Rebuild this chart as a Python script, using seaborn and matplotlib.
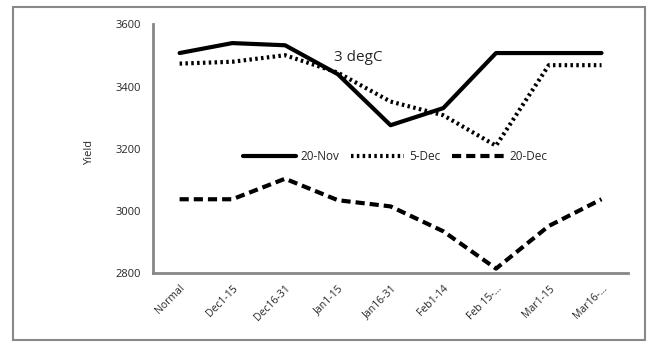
import numpy as np
import pandas as pd
import seaborn as sns
import matplotlib.pyplot as plt
from matplotlib.patches import Rectangle

periods = ['Normal', 'Dec1-15', 'Dec16-31', 'Jan1-15', 'Jan16-31',
           'Feb1-14', 'Feb 15-...', 'Mar1-15', 'Mar16-...']
nov20 = [3508, 3540, 3533, 3440, 3276, 3331, 3508, 3508, 3508]
dec5 = [3474, 3480, 3501, 3445, 3352, 3308, 3210, 3469, 3469]
dec20 = [3038, 3038, 3104, 3035, 3015, 2935, 2815, 2952, 3038]
series_names = ['20-Nov', '5-Dec', '20-Dec']

rows = []
for name, vals in zip(series_names, [nov20, dec5, dec20]):
    for i, v in enumerate(vals):
        rows.append({'pos': i, 'period': periods[i], 'series': name, 'yield': v})
df = pd.DataFrame(rows)

sns.set_style('white')
plt.rcParams['font.family'] = ['Open Sans', 'DejaVu Sans']

fig = plt.figure(figsize=(6.52, 3.54), dpi=100)
ax = fig.add_axes([0.235, 0.228, 0.728, 0.703])

sns.lineplot(data=df, x='pos', y='yield', style='series', color='black',
             linewidth=3, dashes={'20-Nov': '', '5-Dec': (0.6, 0.8), '20-Dec': (2.2, 1.2)},
             ax=ax)

ax.set_xlim(-0.5, len(periods) - 0.5)
ax.set_ylim(2800, 3600)
ax.set_yticks([2800, 3000, 3200, 3400, 3600])
ax.set_xticks(range(len(periods)))
ax.set_xticklabels(periods, rotation=45, ha='right', rotation_mode='anchor', fontsize=7.5)
ax.set_xticks(np.arange(-0.5, len(periods)), minor=True)
ax.tick_params(axis='x', which='major', length=0, pad=7)
ax.tick_params(axis='x', which='minor', length=4, width=1.5, color='#888888', direction='out')
ax.tick_params(axis='y', length=4, width=1.5, color='#888888', direction='out',
               labelsize=8, pad=5)
ax.set_xlabel('')
ax.set_ylabel('')
for s in ['top', 'right']:
    ax.spines[s].set_visible(False)
for s in ['left', 'bottom']:
    ax.spines[s].set_color('#888888')
    ax.spines[s].set_linewidth(2)

ax.text(3.38, 3495, '3 degC', fontsize=11, ha='center', va='center')
fig.text(0.138, 0.57, 'Yield', rotation=90, fontsize=8, ha='center', va='center')

leg = ax.legend(loc='center', bbox_to_anchor=(0.51, 0.47), ncol=3, frameon=False,
                fontsize=8.5, handlelength=4.5, columnspacing=1.0, handletextpad=0.4)

fig.add_artist(Rectangle((13 / 652, 1 - 340 / 354), 632 / 652, 333 / 354,
                         transform=fig.transFigure, fill=False,
                         edgecolor='#888888', linewidth=1.5))

fig.savefig('out.png', dpi=100)
